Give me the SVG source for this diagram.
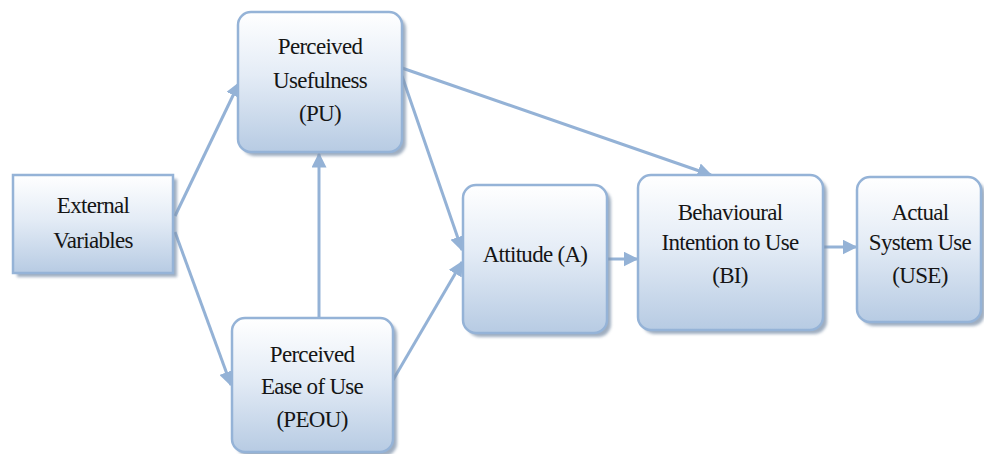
<svg xmlns="http://www.w3.org/2000/svg" width="984" height="454" viewBox="0 0 984 454">
<defs>
<linearGradient id="g" x1="0" y1="0" x2="0" y2="1">
<stop offset="0" stop-color="#ffffff"/>
<stop offset="0.45" stop-color="#e4ecf6"/>
<stop offset="1" stop-color="#b7cbe3"/>
</linearGradient>
<filter id="sh" x="-10%" y="-10%" width="130%" height="130%">
<feGaussianBlur stdDeviation="1.5"/>
</filter>
<marker id="ah" viewBox="0 0 10 10" refX="9" refY="5" markerWidth="5" markerHeight="5" orient="auto" markerUnits="strokeWidth">
<path d="M0,0 L10,5 L0,10 z" fill="#94b2d6"/>
</marker>
<style>
.box{fill:url(#g);stroke:#95b3d7;stroke-width:2.5}
.shadow{fill:#7f93ab;opacity:0.75;filter:url(#sh)}
.c{fill:none;stroke:#94b2d6;stroke-width:3;marker-end:url(#ah)}
text{font-family:"Liberation Serif","Times New Roman",serif;font-size:23px;fill:#151515;text-anchor:middle;letter-spacing:-0.7px}
</style>
</defs>
<g id="connectors">
<line class="c" x1="175" y1="216" x2="239" y2="83"/>
<line class="c" x1="175" y1="232" x2="231" y2="385"/>
<line class="c" x1="319" y1="318" x2="319" y2="154"/>
<line class="c" x1="402" y1="68" x2="711" y2="175"/>
<line class="c" x1="402" y1="76" x2="462" y2="250"/>
<line class="c" x1="393" y1="380" x2="462" y2="262"/>
<line class="c" x1="608" y1="259" x2="637" y2="259"/>
<line class="c" x1="824" y1="247" x2="856" y2="247"/>
</g>
<g id="ev">
<rect class="shadow" x="17" y="179" width="160" height="98"/>
<rect class="box" x="13" y="175" width="160" height="98"/>
<text x="93" y="213">External</text>
<text x="93" y="248">Variables</text>
</g>
<g id="pu">
<rect class="shadow" x="242" y="16" width="164" height="140" rx="13"/>
<rect class="box" x="238" y="12" width="164" height="140" rx="13"/>
<text x="320" y="54">Perceived</text>
<text x="320" y="88">Usefulness</text>
<text x="320" y="121">(PU)</text>
</g>
<g id="peou">
<rect class="shadow" x="236" y="322" width="161" height="134" rx="13"/>
<rect class="box" x="232" y="318" width="161" height="134" rx="13"/>
<text x="312" y="362">Perceived</text>
<text x="312" y="394">Ease of Use</text>
<text x="312" y="427">(PEOU)</text>
</g>
<g id="attitude">
<rect class="shadow" x="467" y="189" width="144" height="148" rx="13"/>
<rect class="box" x="463" y="185" width="144" height="148" rx="13"/>
<text x="535" y="262">Attitude (A)</text>
</g>
<g id="bi">
<rect class="shadow" x="642" y="179" width="185" height="155" rx="13"/>
<rect class="box" x="638" y="175" width="185" height="155" rx="13"/>
<text x="730" y="220">Behavioural</text>
<text x="730" y="250">Intention to Use</text>
<text x="730" y="283">(BI)</text>
</g>
<g id="use">
<rect class="shadow" x="861" y="181" width="124" height="145" rx="13"/>
<rect class="box" x="857" y="177" width="124" height="145" rx="13"/>
<text x="920" y="220">Actual</text>
<text x="920" y="250">System Use</text>
<text x="920" y="283">(USE)</text>
</g>
</svg>
